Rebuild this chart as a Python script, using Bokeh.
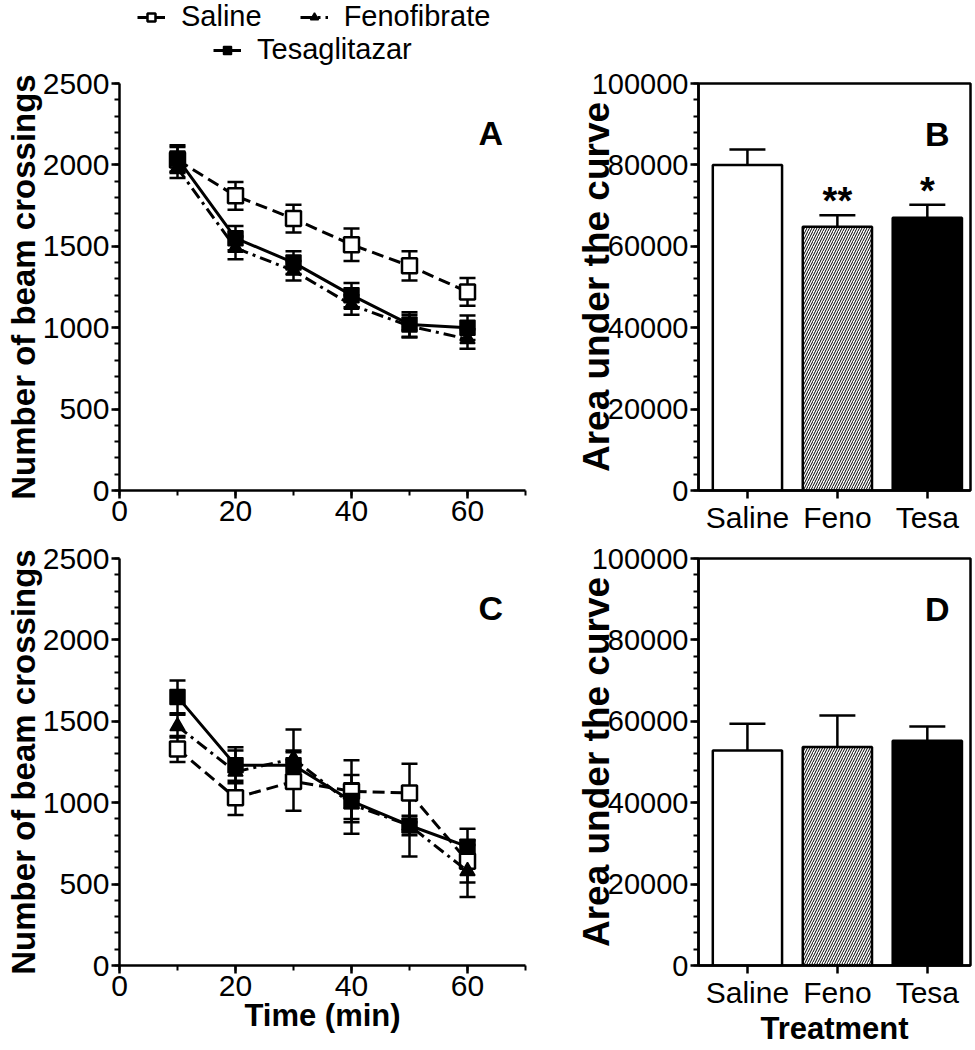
from bokeh.plotting import figure
from bokeh.models import (ColumnDataSource, Whisker, TeeHead, Legend, LegendItem,
                          Range1d, FixedTicker, SingleIntervalTicker, Label,
                          NumeralTickFormatter)
from bokeh.layouts import column, row
from bokeh.embed import file_html
from bokeh.resources import INLINE
from bokeh.core.properties import value

# ---------------- data ----------------
time_min = [10, 20, 30, 40, 50, 60]

# Panel A
saline_a = [2030, 1810, 1670, 1510, 1380, 1220]
saline_a_err = [80, 85, 85, 100, 90, 85]
feno_a = [1980, 1490, 1350, 1140, 1010, 930]
feno_a_err = [60, 70, 60, 60, 70, 60]
tesa_a = [2040, 1550, 1400, 1200, 1020, 1000]
tesa_a_err = [80, 75, 70, 75, 75, 75]

# Panel C
saline_c = [1330, 1030, 1130, 1070, 1060, 640]
saline_c_err = [80, 105, 180, 190, 180, 130]
feno_c = [1470, 1190, 1270, 990, 860, 580]
feno_c_err = [70, 130, 180, 180, 190, 160]
tesa_c = [1650, 1230, 1230, 1010, 860, 730]
tesa_c_err = [100, 110, 90, 110, 60, 110]

# Bar panels
categories = ["Saline", "Feno", "Tesa"]
auc_b = [80000, 64800, 67000]
auc_b_err = [3800, 2800, 3200]
sig_b = ["", "**", "*"]
auc_d = [52800, 53700, 55200]
auc_d_err = [6600, 7700, 3500]

series_names = ["Saline", "Fenofibrate", "Tesaglitazar"]

FONT = "Liberation Sans"
LW = 2.5

SAL_STYLE = dict(line=dict(line_dash="12 6"),
                 mark=dict(marker="square", size=15, fill_color="white", line_width=2.5))
FEN_STYLE = dict(line=dict(line_dash="12 5 3 5"),
                 mark=dict(marker="triangle", size=15, fill_color="black", line_width=1.5))
TES_STYLE = dict(line=dict(),
                 mark=dict(marker="square", size=15, fill_color="black", line_width=1.5))
STYLES = [SAL_STYLE, FEN_STYLE, TES_STYLE]

W_LEFT, W_RIGHT = 548, 427
H_LEG = 66
TOP1, BOT1 = 17, 52
TOP2, BOT2 = 16, 83
H_TOP = TOP1 + 407 + BOT1
H_BOT = TOP2 + 407 + BOT2


def style_axes(p, tick_fs, label_fs):
    for ax in list(p.xaxis) + list(p.yaxis):
        ax.axis_line_width = LW
        ax.axis_line_color = "black"
        ax.major_tick_line_width = LW
        ax.minor_tick_line_width = 2
        ax.major_tick_out = 8
        ax.major_tick_in = 0
        ax.minor_tick_out = 5
        ax.minor_tick_in = 0
        ax.major_label_text_font = FONT
        ax.major_label_text_font_size = tick_fs
        ax.major_label_text_color = "black"
        ax.major_label_standoff = 2
        ax.axis_label_text_font = FONT
        ax.axis_label_text_font_size = label_fs
        ax.axis_label_text_font_style = "bold"
        ax.axis_label_text_color = "black"
    p.xgrid.visible = False
    p.ygrid.visible = False


def set_xlabel(p, text):
    p.xaxis.axis_label = text
    p.xaxis.axis_label_text_font_size = "31px"
    p.xaxis.axis_label_standoff = -1


def whiskers(p, x, y, err, head=16):
    src = ColumnDataSource(dict(x=x, upper=[a + b for a, b in zip(y, err)],
                                lower=[a - b for a, b in zip(y, err)]))
    w = Whisker(source=src, base="x", upper="upper", lower="lower", dimension="height",
                line_width=LW, line_color="black",
                upper_head=TeeHead(size=head, line_width=LW, line_color="black"),
                lower_head=TeeHead(size=head, line_width=LW, line_color="black"))
    p.add_layout(w)


def line_panel(letter, series, height, top, bottom, xlabel):
    p = figure(width=W_LEFT, height=height, x_range=Range1d(0, 70), y_range=Range1d(0, 2500),
               output_backend="svg", toolbar_location=None,
               min_border_left=119, min_border_right=23,
               min_border_top=top, min_border_bottom=bottom)
    p.outline_line_color = None
    p.xaxis.ticker = SingleIntervalTicker(interval=20, num_minor_ticks=2)
    p.yaxis.ticker = SingleIntervalTicker(interval=500, num_minor_ticks=5)
    p.yaxis.axis_label = "Number of beam crossings"
    p.yaxis.axis_label_standoff = -2
    style_axes(p, "30px", "33px")
    if xlabel:
        set_xlabel(p, "Time (min)")

    for (vals, errs), st in zip(series, STYLES):
        whiskers(p, time_min, vals, errs)
    for (vals, errs), st in zip(series, STYLES):
        p.line(time_min, vals, line_width=3, line_color="black", **st["line"])
        p.scatter(time_min, vals, line_color="black", **st["mark"])

    p.add_layout(Label(x=64, y=2195, text=letter, text_font=FONT, text_font_size="34px",
                       text_font_style="bold", text_align="center",
                       text_baseline="alphabetic", text_color="black"))
    return p


def legend_figure(series):
    # legend-only strip: the series are plotted outside its (hidden) ranges
    p = figure(width=W_LEFT, height=H_LEG, output_backend="svg", toolbar_location=None,
               x_axis_type=None, y_axis_type=None, min_border=0,
               x_range=Range1d(-2, -1), y_range=Range1d(-2, -1))
    p.outline_line_color = None
    p.xgrid.visible = False
    p.ygrid.visible = False
    items = []
    for name, vals, st in zip(series_names, series, STYLES):
        l = p.line(time_min, vals, line_width=3, line_color="black", **st["line"])
        m = p.scatter(time_min, vals, line_color="black", **st["mark"])
        items.append(LegendItem(label=name, renderers=[l, m]))

    def mk(its, loc):
        return Legend(items=its, orientation="horizontal", location=loc,
                      label_text_font=FONT, label_text_font_size="29px",
                      label_text_color="black", label_height=30,
                      glyph_width=28, glyph_height=20, label_standoff=16, spacing=38,
                      padding=0, margin=0, border_line_color=None,
                      background_fill_alpha=0)
    p.add_layout(mk(items[:2], (137, 33)))
    p.add_layout(mk(items[2:], (213, 0)))
    return p


def bar_panel(letter, vals, errs, sig, height, top, bottom, xlabel):
    xs = [1, 2, 3]
    p = figure(width=W_RIGHT, height=height, x_range=Range1d(0.456, 3.48),
               y_range=Range1d(0, 100000),
               output_backend="svg", toolbar_location=None,
               min_border_left=698 - W_LEFT, min_border_right=W_LEFT + W_RIGHT - 970,
               min_border_top=top, min_border_bottom=bottom)
    p.outline_line_color = "black"
    p.outline_line_width = LW
    p.xaxis.ticker = FixedTicker(ticks=xs)
    p.xaxis.major_label_overrides = {x: c for x, c in zip(xs, categories)}
    p.yaxis.ticker = SingleIntervalTicker(interval=20000, num_minor_ticks=5)
    p.yaxis.formatter = NumeralTickFormatter(format="0")
    p.yaxis.axis_label = "Area under the curve"
    p.yaxis.axis_label_standoff = -28
    style_axes(p, "29px", "37px")
    p.xaxis.major_label_text_font_size = "30px"
    if xlabel:
        set_xlabel(p, "Treatment")

    src = ColumnDataSource(dict(x=xs, top=vals,
                                upper=[v + e for v, e in zip(vals, errs)],
                                fill=["white", "white", "black"],
                                hatch=[" ", "/", " "]))
    w = Whisker(source=src, base="x", upper="upper", lower="top", dimension="height",
                line_width=LW, line_color="black",
                upper_head=TeeHead(size=36, line_width=LW, line_color="black"),
                lower_head=None)
    p.add_layout(w)
    p.vbar(x="x", top="top", width=0.77, source=src, fill_color="fill",
           line_color="black", line_width=LW, hatch_pattern="hatch",
           hatch_color="black", hatch_scale=5, hatch_weight=1)
    if sig is not None:
        p.text(x=xs, y=[v + e for v, e in zip(vals, errs)], text=sig,
               text_font=value(FONT), text_font_size="38px", text_font_style="bold",
               text_align="center", text_baseline="alphabetic", text_color="black",
               y_offset=-14)
    p.add_layout(Label(x=3.11, y=87700, text=letter, text_font=FONT, text_font_size="34px",
                       text_font_style="bold", text_align="center",
                       text_baseline="alphabetic", text_color="black"))
    return p


pLeg = legend_figure([saline_a, feno_a, tesa_a])
pA = line_panel("A", [(saline_a, saline_a_err), (feno_a, feno_a_err), (tesa_a, tesa_a_err)],
                H_TOP, TOP1, BOT1, False)
pB = bar_panel("B", auc_b, auc_b_err, sig_b, H_TOP, TOP1, BOT1, False)
pC = line_panel("C", [(saline_c, saline_c_err), (feno_c, feno_c_err), (tesa_c, tesa_c_err)],
                H_BOT, TOP2, BOT2, True)
pD = bar_panel("D", auc_d, auc_d_err, None, H_BOT, TOP2, BOT2, True)

layout = column(pLeg, row(pA, pB), row(pC, pD))
open("out.html", "w").write(file_html(layout, INLINE))
